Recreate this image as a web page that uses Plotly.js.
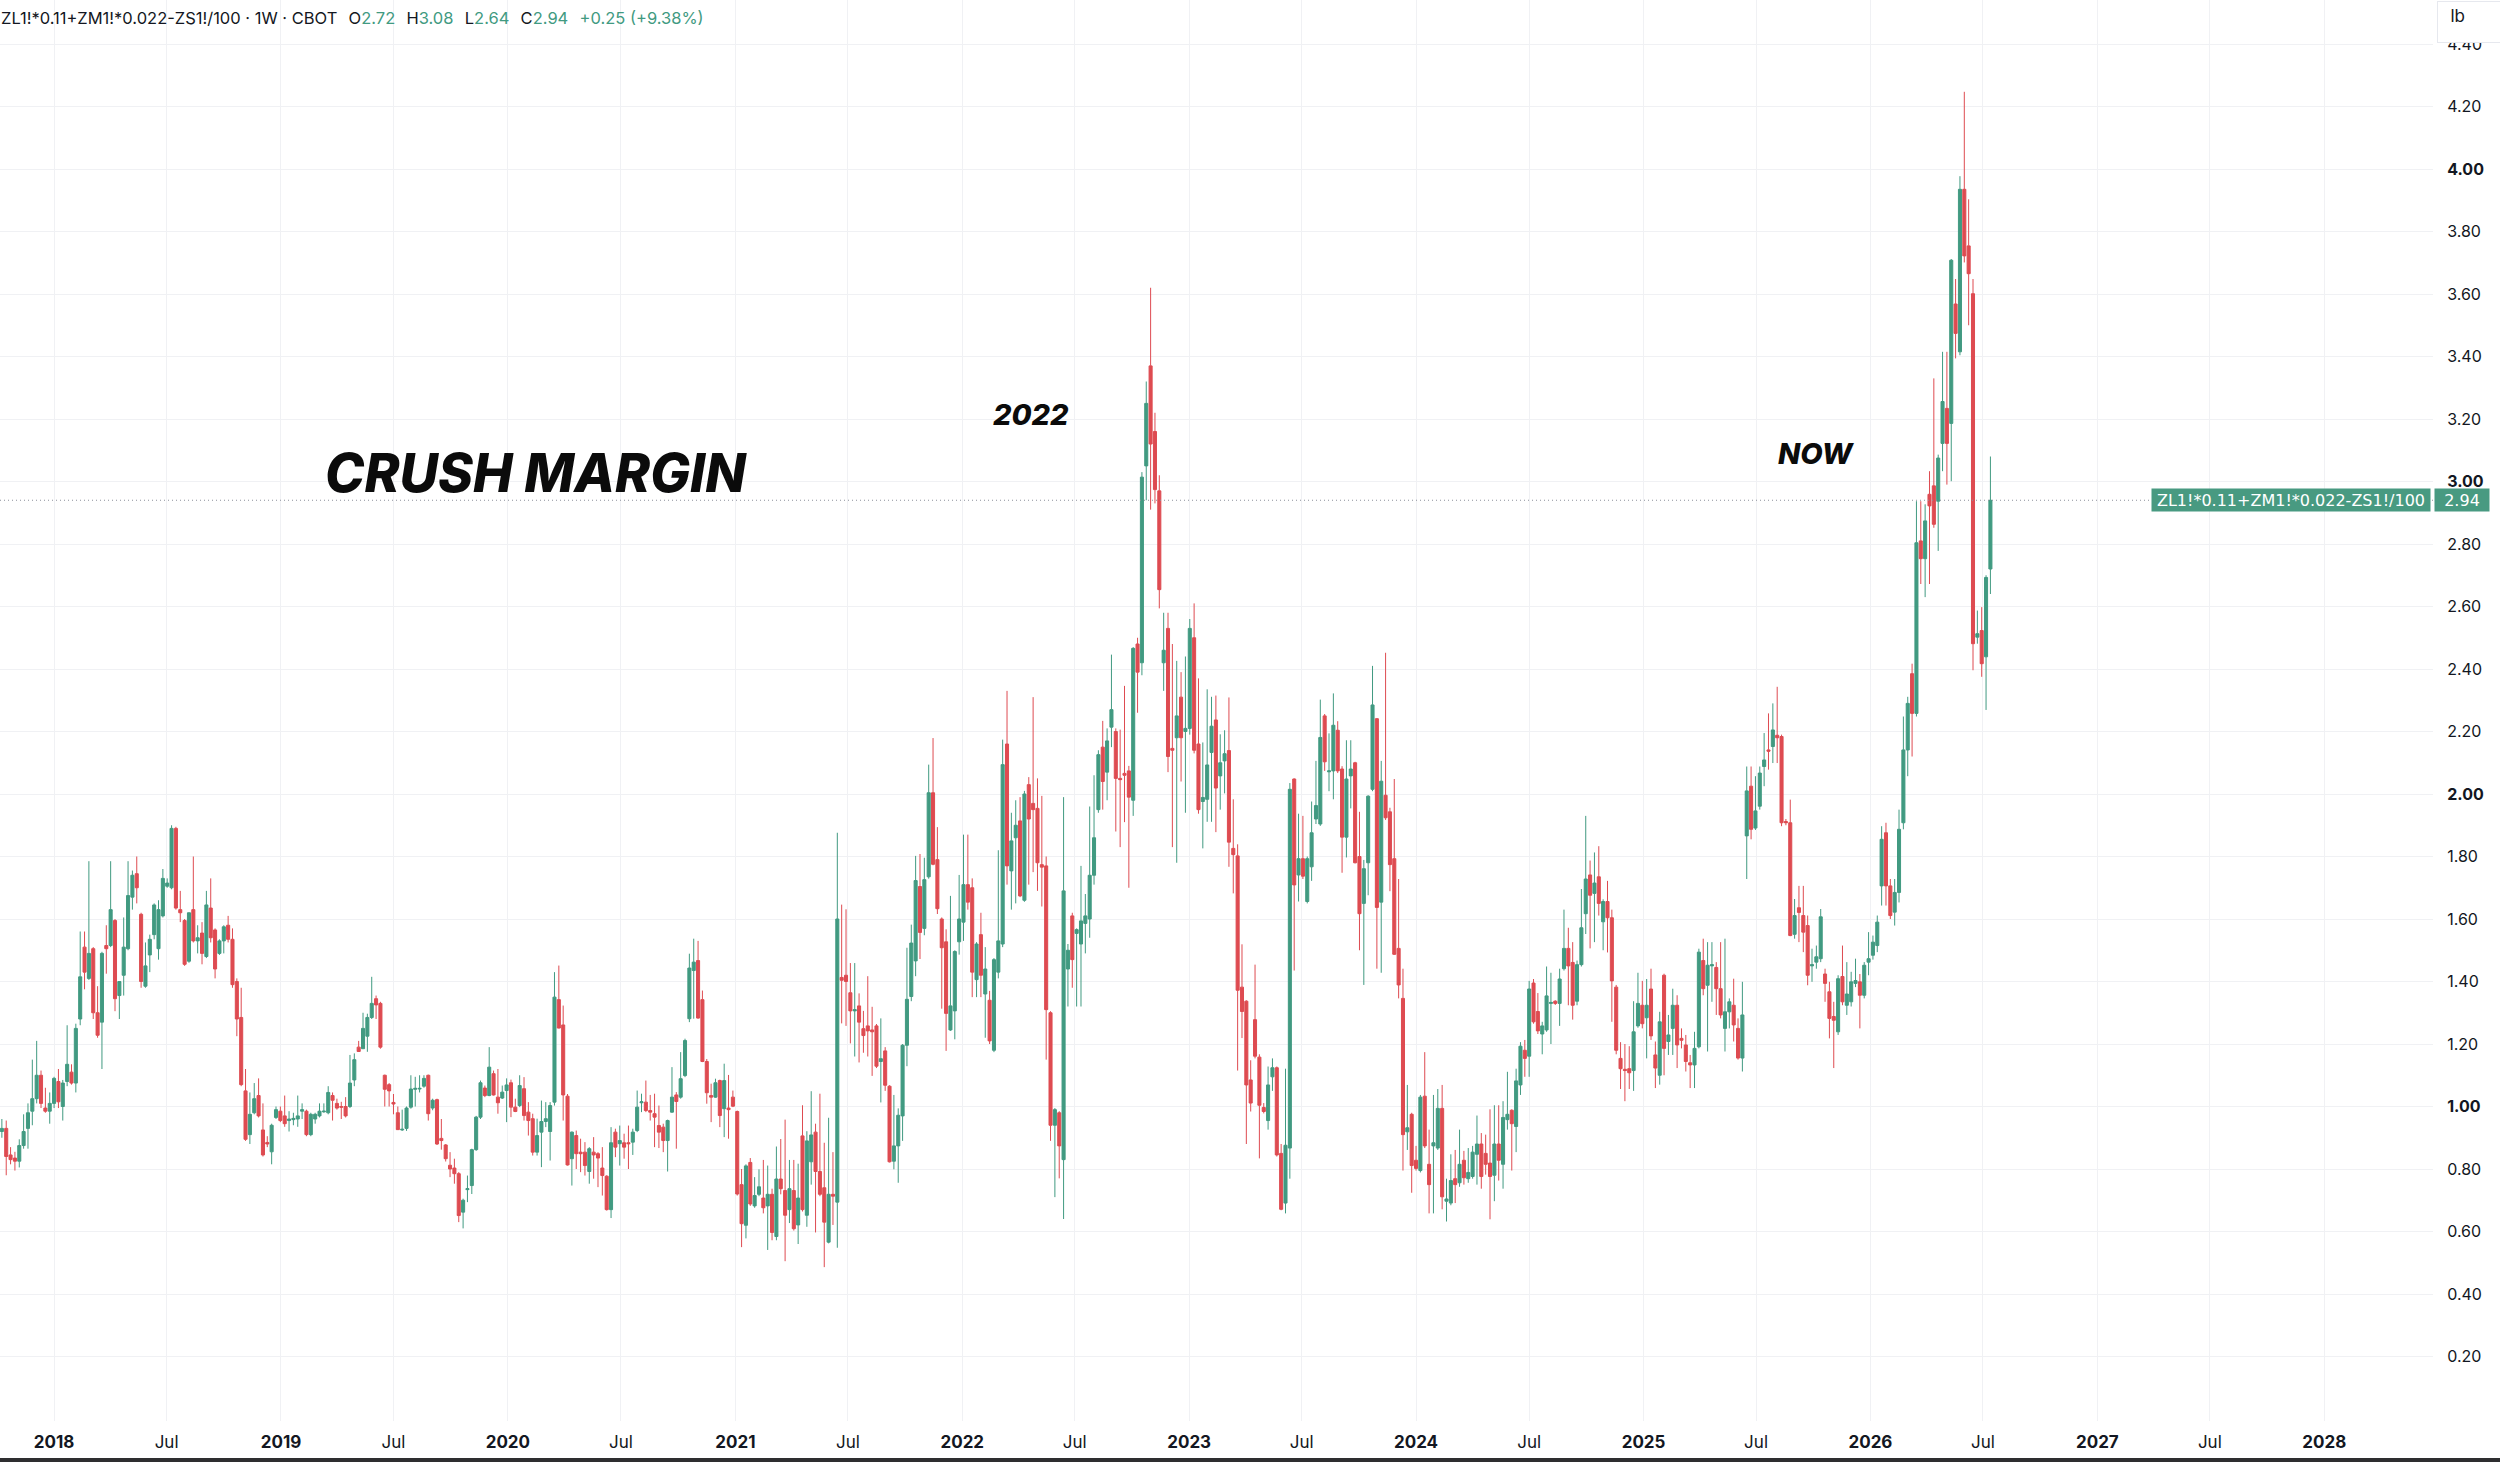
<!DOCTYPE html>
<html><head><meta charset="utf-8">
<script src="https://cdn.plot.ly/plotly-3.0.1.min.js"></script>
<style>html,body{margin:0;padding:0;background:#fff;}#chart{width:2500px;height:1462px;}</style>
</head><body><div id="chart"></div>
<script>
// Weekly candles, first bar week of 2017-10-09
const firstWeek = [2017, 9, 9];

const open = [
.92,.93,.845,.835,.825,.875,.93,.985,1.025,1.10,
.995,.985,1.01,1.08,1.0,1.08,1.11,1.075,1.28,1.51,
1.41,1.505,1.30,1.27,1.515,1.515,1.595,1.355,1.42,1.505,
1.67,1.745,1.615,1.385,1.485,1.55,1.505,1.61,1.705,1.70,
1.89,1.63,1.595,1.465,1.63,1.53,1.555,1.48,1.635,1.565,
1.49,1.53,1.58,1.535,1.40,1.285,1.05,.91,.98,1.035,
.925,.885,.855,.965,.985,.97,.955,.958,.96,.985,
.985,.91,.96,.97,.983,.98,1.035,1.01,1.0,1.0,
1.0,1.085,1.19,1.185,1.225,1.285,1.345,1.33,1.10,1.07,
1.013,.98,.925,.93,.998,1.055,1.056,1.065,1.10,.995,
1.022,.898,.877,.812,.803,.785,.662,.734,.747,.862,
.966,1.059,1.035,1.105,1.03,1.027,1.051,1.076,.998,1.003,
1.057,.982,.961,.854,.918,.952,.92,1.014,1.342,1.261,
1.033,.833,.907,.854,.854,.792,.854,.849,.803,.777,
.67,.918,.881,.884,.884,.886,.923,1.012,1.014,.987,
.977,.939,.934,.891,.982,1.037,1.03,1.099,1.281,1.435,
1.467,1.342,1.144,1.035,1.03,1.083,.993,.995,1.03,.984,
.75,.62,.821,.682,.719,.707,.682,.719,.584,.768,
.731,.67,.731,.621,.906,.652,.823,.918,.792,.74,
.566,.719,.694,1.413,1.42,1.364,1.306,1.322,1.249,1.258,
1.245,1.258,1.144,1.178,1.065,.825,.874,.97,1.196,1.352,
1.466,1.704,1.57,1.735,2.004,1.79,1.60,1.527,1.245,1.306,
1.527,1.59,1.71,1.70,1.406,1.55,1.36,1.34,1.18,1.43,
1.52,2.16,1.754,1.86,1.914,1.66,2.03,1.97,1.954,1.774,
1.77,1.30,.94,.98,.83,1.44,1.61,1.554,1.52,1.586,
1.60,1.74,1.95,2.15,2.07,2.214,2.20,2.05,2.066,2.074,
1.98,2.48,2.42,3.05,3.37,3.16,2.97,2.42,2.53,2.146,
2.18,2.31,2.20,2.21,2.50,2.16,1.976,1.983,2.133,2.237,
2.058,2.106,2.139,1.826,1.802,1.382,1.337,1.085,1.278,1.158,
.997,.955,1.095,1.124,.85,.691,.867,2.048,1.741,1.793,
1.656,1.767,1.92,1.904,2.25,2.071,2.074,2.204,2.08,1.862,
2.058,2.10,1.80,1.65,1.78,2.015,2.241,1.654,1.996,1.943,
1.793,1.506,1.346,.919,.975,.828,.795,1.033,.815,.874,
.867,.994,.697,.691,.769,.756,.828,.769,.776,.847,
.88,.85,.819,.78,.88,.815,.958,.988,.936,1.069,
1.18,1.161,1.395,1.304,1.232,1.245,1.33,1.337,1.33,1.441,
1.506,1.461,1.337,1.454,1.617,1.741,1.682,1.735,1.591,1.656,
1.604,1.382,1.154,1.119,1.121,1.115,1.258,1.324,1.284,1.376,
1.165,1.10,1.42,1.208,1.25,1.324,1.218,1.197,1.14,1.133,
1.191,1.467,1.388,1.45,1.445,1.377,1.25,1.303,1.324,1.25,
1.155,1.866,2.025,1.891,1.961,2.088,2.141,2.152,2.188,2.184,
1.912,1.908,1.551,1.636,1.611,1.579,1.45,1.462,1.473,1.424,
1.367,1.288,1.239,1.416,1.324,1.335,1.394,1.399,1.356,1.462,
1.484,1.515,1.706,1.876,1.706,1.622,1.685,1.908,2.141,2.385,
2.258,2.81,2.753,2.959,2.986,2.937,3.122,3.234,3.186,3.568,
3.415,3.935,3.754,3.601,2.502,2.523,2.439,2.72
];

const high = [
.96,.955,.87,.855,.895,.975,1.01,1.15,1.21,1.115,
1.06,1.045,1.095,1.12,1.085,1.26,1.135,1.265,1.56,1.56,
1.785,1.51,1.385,1.495,1.58,1.785,1.60,1.40,1.605,1.785,
1.755,1.80,1.62,1.525,1.55,1.65,1.66,1.76,1.73,1.90,
1.895,1.69,1.60,1.62,1.80,1.58,1.59,1.69,1.73,1.57,
1.535,1.58,1.61,1.57,1.41,1.38,1.12,1.045,1.075,1.09,
1.01,.905,.945,1.0,1.0,1.035,.985,.98,1.035,1.01,
.99,.98,.98,1.01,1.01,1.065,1.045,1.025,1.015,1.03,
1.165,1.17,1.21,1.30,1.297,1.415,1.355,1.335,1.102,1.075,
1.04,1.0,.99,1.0,1.10,1.095,1.10,1.10,1.102,1.025,
1.025,.96,.88,.854,.833,.79,.705,.779,.865,.97,
1.083,1.067,1.19,1.115,1.12,1.067,1.09,1.086,1.025,1.10,
1.094,1.014,.977,.961,1.019,1.014,1.014,1.43,1.451,1.323,
1.04,.92,.923,.897,.886,.87,.902,.854,.87,.78,
.934,.929,.939,.913,.939,.929,1.051,1.041,1.083,1.037,
1.041,1.003,.945,.958,1.126,1.046,1.174,1.217,1.489,1.537,
1.53,1.371,1.152,1.073,1.089,1.086,1.137,1.101,1.051,.987,
.80,.815,.835,.774,.799,.829,.811,.737,.872,.896,
.958,.829,.829,.817,1.004,.921,1.049,.945,1.041,.884,
.964,.854,1.876,1.646,1.631,1.459,1.459,1.362,1.306,1.417,
1.319,1.264,1.282,1.19,1.068,1.037,.994,1.20,1.508,1.582,
1.802,1.808,1.796,2.094,2.179,1.894,1.605,1.567,1.674,1.50,
1.741,1.87,1.87,1.73,1.526,1.62,1.51,1.37,1.475,1.82,
2.174,2.33,1.94,1.98,1.99,2.01,2.054,2.31,2.05,1.994,
1.80,1.305,.995,.985,1.99,1.52,1.62,1.57,1.77,1.68,
1.96,2.06,2.14,2.234,2.21,2.446,2.21,2.206,2.346,2.09,
2.47,2.50,3.03,3.32,3.62,3.22,3.02,2.58,2.58,2.48,
2.426,2.39,2.44,2.56,2.61,2.37,2.165,2.335,2.311,2.315,
2.191,2.204,2.309,1.983,1.839,1.519,1.34,1.148,1.454,1.167,
1.011,1.128,1.154,1.128,.88,1.121,2.035,2.05,1.937,1.93,
1.80,1.976,2.106,2.302,2.256,2.194,2.322,2.233,2.089,2.172,
2.172,2.103,1.943,1.789,1.996,2.41,2.243,2.106,2.452,1.956,
2.048,1.728,1.441,1.069,.98,.874,1.037,1.174,.926,1.037,
1.056,1.069,.769,.847,.861,.926,.858,.867,.874,.971,
.915,.91,.991,1.004,1.004,1.017,1.111,.991,1.121,1.206,
1.213,1.402,1.408,1.363,1.271,1.448,1.428,1.34,1.441,1.63,
1.572,1.526,1.467,1.696,1.93,1.787,1.813,1.833,1.663,1.722,
1.63,1.389,1.206,1.20,1.193,1.337,1.428,1.402,1.408,1.441,
1.208,1.303,1.425,1.293,1.377,1.356,1.25,1.229,1.165,1.239,
1.505,1.537,1.526,1.526,1.462,1.526,1.537,1.346,1.409,1.282,
1.399,2.088,2.088,2.057,2.088,2.195,2.258,2.29,2.343,2.19,
1.92,1.982,1.664,1.706,1.706,1.611,1.505,1.515,1.632,1.441,
1.399,1.335,1.42,1.515,1.462,1.431,1.473,1.424,1.462,1.558,
1.547,1.611,1.897,1.908,1.728,1.728,1.95,2.248,2.311,2.417,
2.937,2.937,2.927,3.033,3.33,3.086,3.415,3.415,3.712,3.648,
3.977,4.247,3.903,3.648,2.587,2.598,2.70,3.08
];

const low = [
.90,.78,.815,.795,.805,.865,.865,.94,1.01,.995,
.98,.945,.995,.995,.955,1.065,1.07,1.045,1.26,1.375,
1.405,1.28,1.22,1.12,1.425,1.51,1.305,1.28,1.355,1.50,
1.63,1.65,1.38,1.38,1.43,1.535,1.47,1.605,1.70,1.695,
1.63,1.59,1.45,1.46,1.525,1.49,1.455,1.475,1.525,1.41,
1.485,1.49,1.525,1.38,1.225,1.065,.89,.88,.975,.965,
.84,.87,.815,.96,.95,.935,.92,.94,.935,.96,
.905,.905,.945,.965,.98,.975,.955,.99,.96,.965,
.995,1.065,1.175,1.185,1.175,1.28,1.28,1.185,1.0,1.0,
.975,.925,.922,.922,.993,1.0,1.045,1.06,.955,.988,
.877,.862,.824,.774,.753,.63,.61,.694,.72,.858,
.96,1.03,1.033,1.035,.977,1.024,.95,.966,.982,.998,
.955,.907,.843,.843,.806,.934,.827,1.003,1.25,.955,
.811,.747,.80,.79,.779,.753,.769,.742,.715,.667,
.643,.838,.811,.833,.80,.845,.918,.982,.982,.955,
.87,.867,.854,.792,.98,.865,1.025,1.094,1.27,1.281,
1.281,1.142,1.009,.95,1.028,.934,.902,.897,.998,.715,
.55,.578,.682,.676,.713,.658,.541,.572,.572,.719,
.505,.627,.603,.56,.664,.615,.75,.597,.713,.486,
.562,.621,.548,1.266,1.258,1.202,1.16,1.141,1.172,1.16,
1.098,1.123,1.013,1.05,.821,.799,.756,.89,1.129,1.337,
1.417,1.472,1.548,1.729,1.772,1.616,1.313,1.178,1.242,1.215,
1.486,1.53,1.63,1.35,1.35,1.35,1.22,1.20,1.174,1.41,
1.51,1.71,1.63,1.65,1.67,1.655,1.71,1.75,1.69,1.64,
1.15,.89,.71,.77,.64,1.32,1.38,1.32,1.32,1.49,
1.54,1.71,1.94,1.95,1.98,2.15,1.88,1.83,1.91,1.70,
1.93,2.26,2.38,2.94,2.91,2.93,2.594,2.33,2.07,1.83,
1.78,2.04,1.94,2.19,2.13,1.937,1.826,1.911,1.911,1.878,
1.95,2.002,1.767,1.682,1.115,1.219,.88,.984,1.154,.834,
.978,.926,1.05,.84,.668,.658,.769,1.435,1.656,1.728,
1.65,1.722,1.904,1.898,2.074,2.009,1.983,2.067,1.748,1.797,
1.954,1.778,1.50,1.389,1.676,2.009,1.441,1.428,1.917,1.689,
1.485,1.346,.795,.861,.724,.795,.789,.867,.658,.658,
.861,.671,.632,.684,.691,.743,.75,.756,.769,.75,
.737,.782,.639,.697,.763,.737,.926,.795,.854,1.037,
1.095,1.095,1.265,1.232,1.167,1.239,1.20,1.325,1.258,1.435,
1.324,1.278,1.324,1.448,1.552,1.506,1.526,1.611,1.50,1.493,
1.271,1.167,1.056,1.017,1.056,1.05,1.252,1.25,1.154,1.213,
1.059,1.07,1.10,1.165,1.165,1.123,1.186,1.112,1.059,1.059,
1.186,1.356,1.176,1.335,1.293,1.282,1.176,1.25,1.208,1.15,
1.112,1.728,1.855,1.885,1.95,2.025,2.078,2.099,2.099,1.897,
1.90,1.545,1.537,1.526,1.494,1.388,1.399,1.441,1.462,1.335,
1.218,1.123,1.229,1.324,1.293,1.32,1.382,1.25,1.346,1.42,
1.47,1.494,1.643,1.643,1.60,1.579,1.653,1.887,2.057,2.12,
2.248,2.672,2.63,2.672,2.852,2.778,3.033,2.99,3.001,3.394,
3.404,3.701,3.50,2.396,2.481,2.375,2.269,2.64
];

const close = [
.93,.84,.83,.825,.875,.92,.98,1.025,1.10,1.01,
.985,1.01,1.09,1.015,1.075,1.135,1.075,1.25,1.415,1.43,
1.49,1.30,1.228,1.49,1.505,1.63,1.345,1.40,1.51,1.675,
1.74,1.70,1.40,1.45,1.535,1.645,1.63,1.73,1.715,1.89,
1.635,1.62,1.455,1.62,1.53,1.54,1.49,1.645,1.54,1.44,
1.53,1.575,1.535,1.39,1.28,1.07,.895,.975,1.025,.97,
.845,.88,.94,.99,.955,.945,.96,.962,.97,.99,
.91,.975,.975,.985,.985,1.045,1.02,.995,.998,.97,
1.075,1.15,1.176,1.25,1.285,1.33,1.325,1.19,1.055,1.05,
1.008,.926,.927,.995,1.056,1.058,1.058,1.09,.977,1.02,
.88,.891,.833,.80,.785,.651,.70,.737,.862,.966,
1.076,1.035,1.126,1.037,1.012,1.046,1.069,.998,.984,1.067,
.971,.955,.854,.907,.952,.961,1.003,1.35,1.251,1.037,
.813,.918,.849,.849,.811,.865,.845,.835,.779,.67,
.884,.87,.891,.87,.881,.918,.998,1.015,.987,.982,
.966,.918,.891,.955,1.03,1.016,1.089,1.211,1.443,1.462,
1.283,1.144,1.044,1.03,1.076,.971,1.083,.99,1.001,.72,
.625,.81,.688,.715,.743,.676,.719,.597,.768,.737,
.652,.737,.609,.707,.67,.89,.909,.792,.719,.63,
.719,.713,1.60,1.404,1.40,1.306,1.31,1.27,1.227,1.242,
1.239,1.129,1.153,1.068,.823,.874,.972,1.196,1.343,1.523,
1.723,1.557,1.726,2.004,1.775,1.633,1.508,1.298,1.322,1.496,
1.60,1.71,1.654,1.43,1.52,1.42,1.44,1.21,1.47,1.53,
2.094,1.77,1.85,1.90,1.674,2.0,1.92,1.95,1.78,1.766,
1.31,.94,.99,.874,1.69,1.50,1.47,1.566,1.594,1.61,
1.74,1.86,2.126,2.04,2.17,2.27,2.05,2.046,2.06,1.99,
2.466,2.39,3.014,3.25,3.12,2.974,2.654,2.46,2.12,2.14,
2.25,2.18,2.21,2.53,2.14,1.95,1.989,2.093,2.217,2.019,
2.10,2.129,1.846,1.806,1.372,1.304,1.069,1.011,1.161,1.004,
.984,1.069,1.124,.845,.671,.876,2.015,1.709,1.793,1.737,
1.793,1.876,1.963,2.181,2.103,2.074,2.22,2.074,1.862,2.048,
2.08,1.78,1.617,1.761,1.993,2.285,1.637,2.041,1.924,1.774,
1.487,1.389,.91,.932,.811,.802,1.03,.874,.75,.884,
.994,.711,.704,.763,.75,.815,.772,.789,.854,.88,
.776,.815,.776,.88,.828,.965,.975,.945,1.082,1.193,
1.154,1.376,1.271,1.242,1.258,1.354,1.333,1.33,1.408,1.506,
1.45,1.324,1.454,1.572,1.728,1.676,1.715,1.65,1.656,1.604,
1.402,1.18,1.121,1.115,1.108,1.239,1.33,1.265,1.324,1.226,
1.123,1.271,1.186,1.229,1.324,1.197,1.212,1.144,1.133,1.186,
1.494,1.377,1.452,1.454,1.377,1.293,1.303,1.335,1.261,1.155,
1.293,2.01,1.887,1.946,2.067,2.109,2.137,2.205,2.18,1.908,
1.908,1.547,1.611,1.621,1.558,1.42,1.454,1.479,1.607,1.394,
1.282,1.276,1.409,1.335,1.36,1.399,1.403,1.356,1.452,1.473,
1.526,1.59,1.855,1.706,1.611,1.685,1.887,2.141,2.29,2.258,
2.804,2.753,2.874,2.922,2.863,3.075,3.256,3.122,3.708,3.474,
3.935,3.722,3.665,2.481,2.513,2.417,2.693,2.94
];

const yTickVals = [0.2,0.4,0.6,0.8,1.0,1.2,1.4,1.6,1.8,2.0,2.2,2.4,2.6,2.8,3.0,3.2,3.4,3.6,3.8,4.0,4.2,4.4];
const yTickText = ['0.20','0.40','0.60','0.80','<b>1.00</b>','1.20','1.40','1.60','1.80','<b>2.00</b>','2.20','2.40','2.60','2.80','<b>3.00</b>','3.20','3.40','3.60','3.80','<b>4.00</b>','4.20','4.40'];
const xTickVals = ['2018-01-01','2018-07-01','2019-01-01','2019-07-01','2020-01-01','2020-07-01','2021-01-01','2021-07-01','2022-01-01','2022-07-01','2023-01-01','2023-07-01','2024-01-01','2024-07-01','2025-01-01','2025-07-01','2026-01-01','2026-07-01','2027-01-01','2027-07-01','2028-01-01'];
const xTickText = ['<b>2018</b>','Jul','<b>2019</b>','Jul','<b>2020</b>','Jul','<b>2021</b>','Jul','<b>2022</b>','Jul','<b>2023</b>','Jul','<b>2024</b>','Jul','<b>2025</b>','Jul','<b>2026</b>','Jul','<b>2027</b>','Jul','<b>2028</b>'];

const symbol = 'ZL1!*0.11+ZM1!*0.022-ZS1!/100';
const headerMeta = ' · 1W · CBOT';
const changeText = '+0.25 (+9.38%)';
const labels = {title: 'CRUSH MARGIN', peak2022: '2022', now: 'NOW', unit: 'lb'};

const UP = '#419a81', DOWN = '#de4b51', GRID = '#f0f1f4', TXT = '#131722';

const t0 = Date.UTC(firstWeek[0], firstWeek[1], firstWeek[2]);
const dates = close.map((_, i) => new Date(t0 + i * 7 * 86400000).toISOString().slice(0, 10));
const last = close.length - 1;

const trace = {
  type: 'candlestick', x: dates, open: open, high: high, low: low, close: close,
  increasing: {line: {color: UP, width: 1}, fillcolor: UP},
  decreasing: {line: {color: DOWN, width: 1}, fillcolor: DOWN},
  whiskerwidth: 0, hoverinfo: 'skip', showlegend: false
};

const g = s => '<span style="color:' + UP + '">' + s + '</span>';
const sp = '\u2002\u2009';
const header = symbol + headerMeta + sp + 'O' + g(open[last].toFixed(2)) + sp + 'H' + g(high[last].toFixed(2)) +
  sp + 'L' + g(low[last].toFixed(2)) + sp + 'C' + g(close[last].toFixed(2)) + sp + g(changeText);

const W = 2433, H = 1421;
const layout = {
  width: 2500, height: 1462,
  margin: {l: 0, r: 67, t: 0, b: 41, pad: 0},
  paper_bgcolor: '#ffffff', plot_bgcolor: '#ffffff',
  showlegend: false,
  boxgap: 0.3, boxgroupgap: 0,
  font: {family: 'Inter, Roboto, sans-serif', color: TXT},
  xaxis: {
    type: 'date', range: ['2017-10-06', '2028-06-24'],
    rangeslider: {visible: false},
    tickmode: 'array', tickvals: xTickVals, ticktext: xTickText,
    tickfont: {family: 'Inter', size: 17, color: TXT},
    showgrid: true, gridcolor: GRID, gridwidth: 1,
    zeroline: false, showline: false,
    ticks: 'outside', ticklen: 6, tickcolor: 'rgba(0,0,0,0)', fixedrange: true
  },
  yaxis: {
    side: 'right', range: [-0.0064, 4.5408],
    tickmode: 'array', tickvals: yTickVals, ticktext: yTickText,
    tickfont: {family: 'Inter', size: 16, color: TXT},
    showgrid: true, gridcolor: GRID, gridwidth: 1,
    zeroline: false, showline: false,
    ticks: 'outside', ticklen: 10, tickcolor: 'rgba(0,0,0,0)', fixedrange: true
  },
  shapes: [
    {type: 'line', xref: 'paper', yref: 'y', x0: 0, x1: 1, y0: close[last], y1: close[last],
     line: {color: '#8c909b', width: 1, dash: '1px,3px'}, layer: 'above'},
    {type: 'rect', xref: 'paper', yref: 'paper', x0: 0, x1: 2500 / W, y0: 1 - 1458 / H, y1: 1 - 1470 / H,
     fillcolor: '#2e2e30', line: {width: 0}, layer: 'above'}
  ],
  annotations: [
    {xref: 'paper', yref: 'paper', x: -1 / W, y: 1 - 17.5 / H, xanchor: 'left', yanchor: 'middle',
     text: header, showarrow: false, font: {family: 'Inter', size: 16.5, color: TXT}},
    {xref: 'paper', yref: 'paper', x: 323 / W, y: 1 - 473 / H, xanchor: 'left', yanchor: 'middle',
     text: labels.title, showarrow: false,
     font: {family: 'Inter', size: 53, color: '#0b0b0b', weight: 800, style: 'italic'}},
    {xref: 'paper', yref: 'paper', x: 1031 / W, y: 1 - 414 / H, xanchor: 'center', yanchor: 'middle',
     text: labels.peak2022, showarrow: false,
     font: {family: 'Inter', size: 29, color: '#0b0b0b', weight: 800, style: 'italic'}},
    {xref: 'paper', yref: 'paper', x: 1816 / W, y: 1 - 453 / H, xanchor: 'center', yanchor: 'middle',
     text: labels.now, showarrow: false,
     font: {family: 'Inter', size: 29, color: '#0b0b0b', weight: 800, style: 'italic'}},
    {xref: 'paper', yref: 'paper', x: 2437 / W, y: 1 - 1 / H, xanchor: 'left', yanchor: 'top',
     text: '\u2002' + labels.unit, showarrow: false, align: 'left', valign: 'top', width: 55, height: 32,
     bgcolor: '#ffffff', bordercolor: '#e6e8ee', borderwidth: 1, borderpad: 4,
     font: {family: 'Inter', size: 17, color: TXT}},
    {xref: 'paper', yref: 'y', x: 2431 / W, y: close[last], xanchor: 'right', yanchor: 'middle',
     text: symbol, showarrow: false, width: 274, height: 18, borderpad: 2,
     bgcolor: '#489a81', font: {family: 'DejaVu Sans', size: 16, color: '#ffffff'}},
    {xref: 'paper', yref: 'y', x: 2434 / W, y: close[last], xanchor: 'left', yanchor: 'middle',
     text: close[last].toFixed(2), showarrow: false, width: 50, height: 18, borderpad: 2,
     bgcolor: '#489a81', font: {family: 'DejaVu Sans', size: 16, color: '#ffffff'}}
  ]
};

Plotly.newPlot('chart', [trace], layout, {staticPlot: true, displayModeBar: false});
</script>
</body></html>
